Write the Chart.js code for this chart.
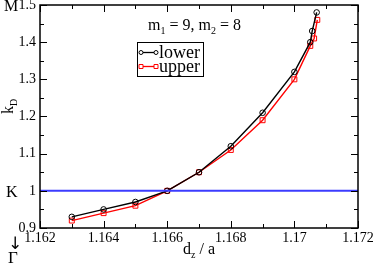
<!DOCTYPE html>
<html>
<head>
<meta charset="utf-8">
<script src="https://cdn.jsdelivr.net/npm/chart.js@4.4.1/dist/chart.umd.min.js"></script>
<style>
  html, body { margin: 0; padding: 0; background: #fff; }
  canvas { display: block; }
</style>
</head>
<body>
<canvas id="kdChart" width="374" height="264"></canvas>
<script>
// data
const lowerX = [1.163, 1.164, 1.165, 1.166, 1.167, 1.168, 1.169, 1.170, 1.1705, 1.17056, 1.1707];
const lowerY = [0.93, 0.95, 0.97, 1.00, 1.05, 1.12, 1.21, 1.32, 1.40, 1.43, 1.48];
const upperX = [1.163, 1.164, 1.165, 1.166, 1.167, 1.168, 1.169, 1.170, 1.1705, 1.17062, 1.17072];
const upperY = [0.92, 0.94, 0.96, 1.00, 1.05, 1.11, 1.19, 1.30, 1.39, 1.41, 1.46];
const kLineX = [1.162, 1.172];
const kLineY = [1.0, 1.0];
const xRange = [1.162, 1.172];
const yRange = [0.9, 1.5];
const seriesNames = ['lower', 'upper'];

const serif = '"Liberation Serif", "DejaVu Serif", serif';

function pts(xs, ys) {
    return xs.map((x, i) => ({ x: x, y: ys[i] }));
}

// text with a subscript, returns end x
function subText(ctx, base, sub, x, y, size) {
    ctx.font = size + 'px ' + serif;
    ctx.fillText(base, x, y);
    let w = ctx.measureText(base).width;
    ctx.font = Math.round(size * 0.62) + 'px ' + serif;
    ctx.fillText(sub, x + w, y + size * 0.22);
    return x + w + ctx.measureText(sub).width;
}

const decorPlugin = {
    id: 'decor',
    afterDraw(chart) {
        const ctx = chart.ctx;
        const a = chart.chartArea;
        const xs = chart.scales.x, ys = chart.scales.y;
        ctx.save();
        ctx.strokeStyle = '#000';
        ctx.lineWidth = 1.5;
        ctx.strokeRect(a.left, a.top, a.right - a.left, a.bottom - a.top);

        // inward ticks on all four sides
        ctx.lineWidth = 1;
        ctx.beginPath();
        for (let i = 0; i <= 10; i++) {
            let v = xRange[0] + i * 0.001;
            let px = Math.round(xs.getPixelForValue(v)) + 0.5;
            let len = (i % 2 === 0) ? 7 : 4;
            ctx.moveTo(px, a.bottom); ctx.lineTo(px, a.bottom - len);
            ctx.moveTo(px, a.top); ctx.lineTo(px, a.top + len);
        }
        for (let i = 0; i <= 12; i++) {
            let v = yRange[0] + i * 0.05;
            let py = Math.round(ys.getPixelForValue(v)) + 0.5;
            let len = (i % 2 === 0) ? 7 : 4;
            ctx.moveTo(a.left, py); ctx.lineTo(a.left + len, py);
            ctx.moveTo(a.right, py); ctx.lineTo(a.right - len, py);
        }
        ctx.stroke();

        ctx.fillStyle = '#000';
        ctx.textBaseline = 'alphabetic';
        ctx.textAlign = 'left';

        // symmetry point labels
        ctx.font = '16px ' + serif;
        ctx.fillText('M', 4, 11);
        ctx.fillText('K', 6, 197);
        ctx.font = '17px "DejaVu Sans", sans-serif';
        ctx.fillText('\u2193', 8, 249);
        ctx.font = '17px ' + serif;
        ctx.fillText('\u0393', 8, 263);

        // x axis title
        ctx.font = '16px ' + serif;
        let w1 = ctx.measureText('d').width;
        ctx.font = '10px ' + serif;
        let w2 = ctx.measureText('z').width;
        ctx.font = '16px ' + serif;
        let w3 = ctx.measureText(' / a').width;
        let sx = (a.left + a.right) / 2 - (w1 + w2 + w3) / 2;
        let ex = subText(ctx, 'd', 'z', sx, 254, 16);
        ctx.font = '16px ' + serif;
        ctx.fillText(' / a', ex, 254);

        // y axis title, rotated
        ctx.save();
        ctx.translate(13, 114);
        ctx.rotate(-Math.PI / 2);
        subText(ctx, 'k', 'D', 0, 0, 16);
        ctx.restore();

        // annotation
        let ax = subText(ctx, 'm', '1', 148, 30, 16);
        ctx.font = '16px ' + serif;
        ctx.fillText(' = 9, ', ax, 30);
        ax += ctx.measureText(' = 9, ').width;
        ax = subText(ctx, 'm', '2', ax, 30, 16);
        ctx.font = '16px ' + serif;
        ctx.fillText(' = 8', ax, 30);

        // legend
        ctx.lineWidth = 1;
        ctx.strokeStyle = '#000';
        ctx.strokeRect(137.5, 42.5, 66, 34);
        const rows = [
            { name: seriesNames[0], color: '#000', y: 52.5, shape: 'circle' },
            { name: seriesNames[1], color: '#ff0000', y: 66.5, shape: 'rect' }
        ];
        rows.forEach(r => {
            ctx.strokeStyle = r.color;
            ctx.lineWidth = 1.3;
            ctx.beginPath();
            ctx.moveTo(141, r.y); ctx.lineTo(156, r.y);
            ctx.stroke();
            ctx.lineWidth = 1;
            [141, 156].forEach(mx => {
                ctx.beginPath();
                if (r.shape === 'circle') ctx.arc(mx, r.y, 2, 0, Math.PI * 2);
                else ctx.rect(mx - 2, r.y - 2, 4, 4);
                ctx.fillStyle = '#fff';
                ctx.fill();
                ctx.stroke();
            });
            ctx.fillStyle = '#000';
            ctx.font = '18px ' + serif;
            ctx.fillText(r.name, 159, r.y + 5);
        });
        ctx.restore();
    }
};

new Chart(document.getElementById('kdChart').getContext('2d'), {
    type: 'scatter',
    data: {
        datasets: [
            {
                label: 'K',
                data: pts(kLineX, kLineY),
                showLine: true,
                borderColor: '#3c3cff',
                borderWidth: 2,
                pointRadius: 0
            },
            {
                label: seriesNames[0],
                data: pts(lowerX, lowerY),
                showLine: true,
                borderColor: '#000',
                borderWidth: 1.4,
                pointStyle: 'circle',
                pointRadius: 2.8,
                pointBorderWidth: 1,
                pointBorderColor: '#000',
                pointBackgroundColor: 'rgba(255,255,255,0)',
                tension: 0
            },
            {
                label: seriesNames[1],
                data: pts(upperX, upperY),
                showLine: true,
                borderColor: '#ff0000',
                borderWidth: 1.4,
                pointStyle: 'rect',
                pointRadius: 3.5,
                pointBorderWidth: 1,
                pointBorderColor: '#ff0000',
                pointBackgroundColor: 'rgba(255,255,255,0)',
                tension: 0
            }
        ]
    },
    options: {
        responsive: false,
        animation: false,
        devicePixelRatio: 1,
        layout: { padding: { left: 0, top: 5, right: 16, bottom: 0 } },
        plugins: { legend: { display: false }, tooltip: { enabled: false } },
        scales: {
            x: {
                type: 'linear',
                min: xRange[0], max: xRange[1],
                grid: { display: false, drawTicks: false },
                border: { display: false },
                ticks: {
                    stepSize: 0.002,
                    padding: 2,
                    color: '#000',
                    font: { family: serif, size: 14 },
                    maxRotation: 0,
                    callback: v => String(parseFloat(v.toFixed(3)))
                },
                afterFit(s) { s.height = 36; s.paddingLeft = 0; s.paddingRight = 0; }
            },
            y: {
                type: 'linear',
                min: yRange[0], max: yRange[1],
                grid: { display: false, drawTicks: false },
                border: { display: false },
                ticks: {
                    stepSize: 0.1,
                    padding: 4,
                    color: '#000',
                    font: { family: serif, size: 14 },
                    callback: v => String(parseFloat(v.toFixed(2)))
                },
                afterFit(s) { s.width = 40; s.paddingTop = 0; s.paddingBottom = 0; }
            }
        }
    },
    plugins: [decorPlugin]
});
</script>
</body>
</html>
